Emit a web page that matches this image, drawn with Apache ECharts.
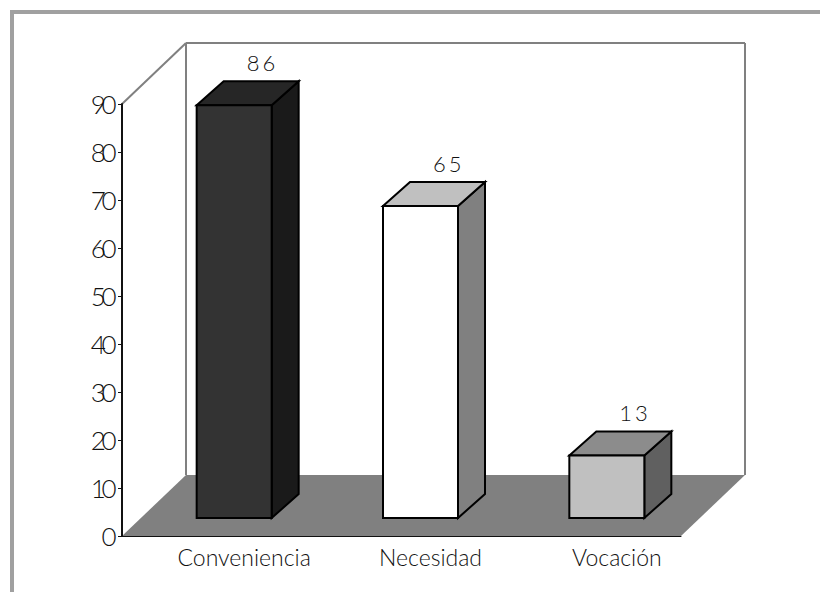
<!DOCTYPE html>
<html>
<head>
<meta charset="utf-8">
<style>
  html, body { margin: 0; padding: 0; background: #fff; }
  #chart { width: 820px; height: 592px; }
  /* Tight digit spacing on the value axis and the value labels */
  #chart text[style*="26px"] { letter-spacing: -4.5px; }
  #chart text[style*="22px"] { letter-spacing: -1.5px; }
</style>
<script src="https://cdn.jsdelivr.net/npm/echarts@6/dist/echarts.min.js"></script>
</head>
<body>
<div id="chart"></div>
<script>
// Motivos de elección: counts per category
const categories = ['Conveniencia', 'Necesidad', 'Vocación'];
const values = [86, 65, 13];
const yTicks = { min: 0, max: 90, interval: 10 };

// Per-bar face shades: front, top, side
const frontColors = ['#333333', '#ffffff', '#c0c0c0'];
const topColors = ['#262626', '#c0c0c0', '#8c8c8c'];
const sideColors = ['#1a1a1a', '#808080', '#606060'];

// Oblique projection depths, in pixels
const floorDepth = { x: 64, y: 61 };
const barDepth = { x: 27, y: 24 };
const barInset = { x: 19, y: 18 };
const barWidth = 75;

const FONT = 'Lato, "Open Sans", sans-serif';
const INK = '#111111';

function poly(points, fill, stroke, lineWidth) {
  return {
    type: 'polygon',
    shape: { points },
    style: { fill, stroke: stroke || 'none', lineWidth: lineWidth || 0, lineJoin: 'miter' }
  };
}

function line(x1, y1, x2, y2, stroke, lineWidth) {
  return { type: 'line', shape: { x1, y1, x2, y2 }, style: { stroke, lineWidth } };
}

// Back wall, side wall and floor of the box, derived from the plot rectangle
function renderScene(params, api) {
  const c = params.coordSys;
  const l = c.x, r = c.x + c.width, t = c.y, b = c.y + c.height;
  const dx = floorDepth.x, dy = floorDepth.y;
  const wallGrey = '#808080';
  return {
    type: 'group',
    children: [
      poly([[l + dx, t - dy], [r + dx, t - dy], [r + dx, b - dy], [l + dx, b - dy]], '#ffffff'),
      line(l, t, l + dx, t - dy, wallGrey, 2),
      line(l + dx, t - dy, r + dx, t - dy, wallGrey, 2),
      line(l + dx, t - dy, l + dx, b - dy, wallGrey, 2),
      line(r + dx, t - dy, r + dx, b - dy, wallGrey, 2),
      poly([[l, b], [l + dx, b - dy], [r + dx, b - dy], [r, b]], '#808080')
    ]
  };
}

// One bar as three faces: front rectangle, top and side parallelograms
function renderBar(params, api) {
  const i = api.value(0);
  const top = api.coord([i, api.value(1)]);
  const base = api.coord([i, 0]);
  const x0 = top[0] + barInset.x - barWidth / 2;
  const x1 = x0 + barWidth;
  const yTop = top[1] - barInset.y;
  const yBase = base[1] - barInset.y;
  const dx = barDepth.x, dy = barDepth.y;
  const edge = '#000000';
  const digits = String(api.value(1)).split('').join(' ');
  return {
    type: 'group',
    children: [
      poly([[x1, yTop], [x1 + dx, yTop - dy], [x1 + dx, yBase - dy], [x1, yBase]], sideColors[i], edge, 2),
      poly([[x0, yTop], [x0 + dx, yTop - dy], [x1 + dx, yTop - dy], [x1, yTop]], topColors[i], edge, 2),
      poly([[x0, yTop], [x1, yTop], [x1, yBase], [x0, yBase]], frontColors[i], edge, 2),
      {
        type: 'text',
        style: {
          x: x0 + barWidth / 2 + 26,
          y: yTop - dy - 19,
          text: digits,
          fill: INK,
          font: '300 22px ' + FONT,
          align: 'center',
          verticalAlign: 'middle'
        }
      }
    ]
  };
}

const chart = echarts.init(document.getElementById('chart'), null, { renderer: 'svg' });
chart.setOption({
  animation: false,
  backgroundColor: '#ffffff',
  graphic: [
    { type: 'rect', shape: { x: 10, y: 10, width: 810, height: 4 }, style: { fill: '#a0a0a0' } },
    { type: 'rect', shape: { x: 10, y: 10, width: 4, height: 582 }, style: { fill: '#a0a0a0' } }
  ],
  grid: { left: 122, top: 104, width: 559, height: 432 },
  xAxis: {
    type: 'category',
    data: categories,
    z: 5,
    axisLine: { lineStyle: { color: '#111111', width: 1 } },
    axisTick: { show: false },
    axisLabel: {
      color: INK,
      fontFamily: FONT,
      fontWeight: 300,
      fontSize: 23,
      margin: 9,
      padding: [0, 0, 0, 58]
    }
  },
  yAxis: {
    type: 'value',
    min: yTicks.min,
    max: yTicks.max,
    interval: yTicks.interval,
    z: 5,
    splitLine: { show: false },
    axisLine: { show: true, lineStyle: { color: '#111111', width: 2 } },
    axisTick: { show: true, length: 4, lineStyle: { color: '#111111', width: 1 } },
    axisLabel: {
      color: INK,
      fontFamily: FONT,
      fontWeight: 300,
      fontSize: 26,
      margin: 10,
      padding: [0, 0, 2, 0]
    }
  },
  series: [
    { type: 'custom', coordinateSystem: 'cartesian2d', data: [[0, 0]], renderItem: renderScene, silent: true, clip: false, z: 1 },
    { type: 'custom', coordinateSystem: 'cartesian2d', data: values.map((v, i) => [i, v]), renderItem: renderBar, clip: false, z: 2 }
  ]
});
</script>
</body>
</html>
